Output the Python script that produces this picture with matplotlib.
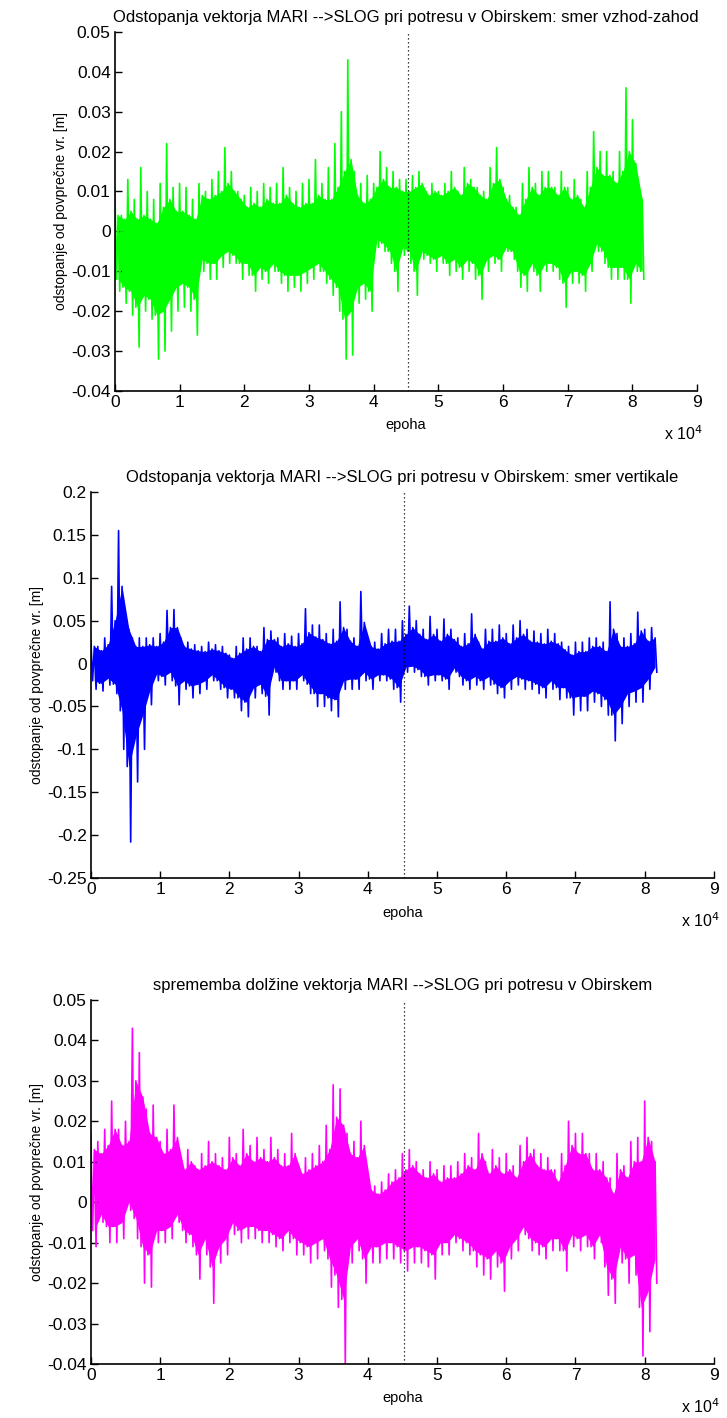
import numpy as np
import matplotlib
matplotlib.use("Agg")
import matplotlib.pyplot as plt

plt.rcParams['font.family'] = ['Liberation Sans', 'DejaVu Sans']

# ---------------- data ----------------
# Each signal is described per 1000-epoch bin (bins start at 0, 1000, ..., 81000):
# extreme spike values (hi / lo) and the edges of the dense core (core_hi / core_lo).
bin_start_e4 = [i / 10 for i in range(82)]

ew_hi = [0.011, 0.004, 0.013, 0.008, 0.016, 0.010, 0.008, 0.012, 0.022, 0.011,
         0.012, 0.011, 0.008, 0.012, 0.010, 0.013, 0.015, 0.021, 0.015, 0.010,
         0.009, 0.011, 0.010, 0.012, 0.011, 0.012, 0.016, 0.011, 0.010, 0.012,
         0.013, 0.018, 0.012, 0.016, 0.022, 0.030, 0.043, 0.015, 0.012, 0.014,
         0.012, 0.020, 0.016, 0.015, 0.013, 0.013, 0.014, 0.015, 0.010, 0.012,
         0.010, 0.012, 0.015, 0.010, 0.016, 0.013, 0.011, 0.010, 0.016, 0.021,
         0.011, 0.009, 0.006, 0.012, 0.016, 0.012, 0.015, 0.015, 0.011, 0.015,
         0.011, 0.013, 0.008, 0.015, 0.025, 0.020, 0.020, 0.015, 0.020, 0.036,
         0.028, 0.010]
ew_lo = [-0.015, -0.018, -0.021, -0.029, -0.020, -0.022, -0.032, -0.030, -0.025, -0.020,
         -0.019, -0.020, -0.026, -0.010, -0.012, -0.012, -0.009, -0.008, -0.008, -0.012,
         -0.011, -0.015, -0.012, -0.013, -0.010, -0.013, -0.015, -0.014, -0.015, -0.013,
         -0.012, -0.010, -0.013, -0.016, -0.020, -0.032, -0.031, -0.018, -0.017, -0.020,
         -0.004, -0.005, -0.008, -0.015, -0.006, -0.008, -0.016, -0.007, -0.008, -0.010,
         -0.008, -0.011, -0.010, -0.012, -0.010, -0.012, -0.017, -0.010, -0.008, -0.010,
         -0.005, -0.007, -0.014, -0.015, -0.010, -0.015, -0.010, -0.010, -0.012, -0.019,
         -0.013, -0.013, -0.015, -0.010, -0.005, -0.008, -0.012, -0.012, -0.012, -0.018,
         -0.010, -0.012]
ew_core_hi = [0.004, 0.003, 0.005, 0.003, 0.004, 0.003, 0.002, 0.006, 0.008, 0.005,
              0.005, 0.004, 0.003, 0.009, 0.008, 0.009, 0.010, 0.012, 0.010, 0.008,
              0.006, 0.007, 0.006, 0.008, 0.007, 0.007, 0.009, 0.007, 0.006, 0.007,
              0.007, 0.009, 0.008, 0.008, 0.011, 0.015, 0.018, 0.009, 0.007, 0.008,
              0.011, 0.013, 0.011, 0.011, 0.010, 0.010, 0.011, 0.012, 0.009, 0.010,
              0.009, 0.010, 0.011, 0.009, 0.012, 0.011, 0.009, 0.008, 0.012, 0.013,
              0.008, 0.006, 0.004, 0.008, 0.011, 0.009, 0.011, 0.011, 0.009, 0.011,
              0.008, 0.009, 0.006, 0.011, 0.016, 0.014, 0.014, 0.012, 0.015, 0.020,
              0.017, 0.008]
ew_core_lo = [-0.012, -0.014, -0.015, -0.019, -0.016, -0.017, -0.021, -0.020, -0.017, -0.014,
              -0.013, -0.014, -0.017, -0.007, -0.008, -0.008, -0.006, -0.005, -0.006, -0.008,
              -0.008, -0.011, -0.009, -0.010, -0.008, -0.010, -0.011, -0.011, -0.011, -0.010,
              -0.009, -0.008, -0.010, -0.012, -0.014, -0.022, -0.020, -0.014, -0.013, -0.015,
              -0.002, -0.003, -0.005, -0.010, -0.004, -0.005, -0.010, -0.005, -0.006, -0.007,
              -0.006, -0.008, -0.007, -0.009, -0.007, -0.008, -0.011, -0.007, -0.006, -0.007,
              -0.004, -0.005, -0.010, -0.011, -0.008, -0.011, -0.008, -0.008, -0.009, -0.013,
              -0.010, -0.010, -0.011, -0.008, -0.003, -0.005, -0.009, -0.009, -0.009, -0.012,
              -0.008, -0.010]

vert_hi = [0.027, 0.020, 0.030, 0.090, 0.155, 0.055, 0.030, 0.030, 0.030, 0.030,
           0.035, 0.062, 0.063, 0.030, 0.025, 0.022, 0.020, 0.025, 0.022, 0.020,
           0.010, 0.020, 0.030, 0.030, 0.020, 0.042, 0.038, 0.030, 0.035, 0.032,
           0.035, 0.064, 0.045, 0.045, 0.035, 0.040, 0.072, 0.040, 0.030, 0.084,
           0.030, 0.025, 0.035, 0.040, 0.040, 0.050, 0.067, 0.050, 0.040, 0.055,
           0.040, 0.052, 0.040, 0.030, 0.035, 0.058, 0.025, 0.040, 0.040, 0.045,
           0.035, 0.045, 0.050, 0.040, 0.038, 0.035, 0.040, 0.035, 0.025, 0.020,
           0.025, 0.025, 0.030, 0.030, 0.025, 0.072, 0.035, 0.030, 0.035, 0.060,
           0.040, 0.042]
vert_lo = [-0.030, -0.032, -0.025, -0.035, -0.100, -0.208, -0.138, -0.100, -0.048, -0.020,
           -0.025, -0.020, -0.048, -0.030, -0.040, -0.035, -0.030, -0.020, -0.030, -0.040,
           -0.040, -0.055, -0.062, -0.040, -0.035, -0.060, -0.010, -0.030, -0.030, -0.030,
           -0.020, -0.035, -0.050, -0.050, -0.055, -0.062, -0.030, -0.030, -0.030, -0.020,
           -0.030, -0.020, -0.020, -0.030, -0.045, -0.010, -0.010, -0.015, -0.025, -0.020,
           -0.020, -0.030, -0.010, -0.025, -0.030, -0.025, -0.030, -0.025, -0.035, -0.040,
           -0.030, -0.025, -0.030, -0.030, -0.035, -0.040, -0.030, -0.042, -0.040, -0.060,
           -0.055, -0.055, -0.045, -0.050, -0.060, -0.090, -0.070, -0.050, -0.045, -0.045,
           -0.030, -0.010]
vert_core_hi = [0.020, 0.015, 0.022, 0.050, 0.090, 0.040, 0.020, 0.020, 0.022, 0.020,
                0.025, 0.042, 0.042, 0.020, 0.017, 0.015, 0.014, 0.017, 0.015, 0.012,
                0.006, 0.012, 0.017, 0.020, 0.014, 0.028, 0.028, 0.020, 0.023, 0.020,
                0.023, 0.036, 0.031, 0.028, 0.023, 0.026, 0.042, 0.026, 0.020, 0.048,
                0.020, 0.017, 0.023, 0.026, 0.026, 0.034, 0.042, 0.034, 0.028, 0.034,
                0.026, 0.034, 0.028, 0.020, 0.023, 0.034, 0.017, 0.026, 0.026, 0.030,
                0.023, 0.030, 0.034, 0.026, 0.025, 0.023, 0.026, 0.023, 0.016, 0.010,
                0.014, 0.014, 0.020, 0.020, 0.014, 0.040, 0.020, 0.020, 0.023, 0.038,
                0.026, 0.030]
vert_core_lo = [-0.020, -0.023, -0.017, -0.024, -0.055, -0.120, -0.085, -0.060, -0.032, -0.012,
                -0.015, -0.010, -0.026, -0.020, -0.026, -0.024, -0.020, -0.013, -0.020, -0.028,
                -0.030, -0.040, -0.045, -0.028, -0.024, -0.038, -0.004, -0.020, -0.020, -0.020,
                -0.013, -0.024, -0.035, -0.035, -0.040, -0.042, -0.020, -0.018, -0.018, -0.010,
                -0.018, -0.013, -0.013, -0.018, -0.028, -0.004, -0.003, -0.007, -0.015, -0.013,
                -0.013, -0.018, -0.005, -0.015, -0.020, -0.015, -0.020, -0.015, -0.024, -0.028,
                -0.020, -0.015, -0.018, -0.020, -0.024, -0.028, -0.020, -0.028, -0.028, -0.040,
                -0.038, -0.038, -0.032, -0.035, -0.042, -0.060, -0.050, -0.035, -0.032, -0.028,
                -0.018, -0.004]

len_hi = [0.017, 0.015, 0.018, 0.025, 0.018, 0.020, 0.043, 0.037, 0.023, 0.024,
          0.015, 0.018, 0.024, 0.010, 0.013, 0.009, 0.012, 0.015, 0.012, 0.011,
          0.016, 0.012, 0.018, 0.014, 0.016, 0.013, 0.016, 0.013, 0.012, 0.017,
          0.009, 0.011, 0.012, 0.014, 0.019, 0.029, 0.028, 0.017, 0.015, 0.020,
          0.005, 0.004, 0.005, 0.007, 0.008, 0.012, 0.013, 0.010, 0.008, 0.010,
          0.008, 0.009, 0.009, 0.010, 0.012, 0.011, 0.017, 0.010, 0.013, 0.011,
          0.012, 0.009, 0.014, 0.016, 0.013, 0.012, 0.011, 0.008, 0.012, 0.020,
          0.017, 0.017, 0.012, 0.012, 0.010, 0.006, 0.012, 0.009, 0.015, 0.016,
          0.025, 0.015]
len_lo = [-0.011, -0.005, -0.010, -0.010, -0.009, -0.002, -0.009, -0.020, -0.021, -0.010,
          -0.010, -0.009, -0.005, -0.010, -0.011, -0.019, -0.013, -0.025, -0.015, -0.013,
          -0.008, -0.010, -0.009, -0.009, -0.010, -0.010, -0.011, -0.012, -0.010, -0.013,
          -0.013, -0.015, -0.014, -0.012, -0.021, -0.026, -0.040, -0.015, -0.012, -0.020,
          -0.015, -0.015, -0.014, -0.014, -0.015, -0.017, -0.015, -0.015, -0.016, -0.019,
          -0.013, -0.013, -0.010, -0.012, -0.013, -0.016, -0.018, -0.019, -0.016, -0.022,
          -0.014, -0.012, -0.008, -0.012, -0.013, -0.014, -0.012, -0.012, -0.017, -0.011,
          -0.012, -0.011, -0.014, -0.010, -0.023, -0.025, -0.015, -0.020, -0.018, -0.038,
          -0.032, -0.020]
len_core_hi = [0.013, 0.012, 0.014, 0.018, 0.014, 0.015, 0.030, 0.026, 0.017, 0.016,
               0.012, 0.013, 0.016, 0.008, 0.010, 0.008, 0.009, 0.010, 0.009, 0.008,
               0.011, 0.009, 0.012, 0.010, 0.011, 0.010, 0.011, 0.009, 0.009, 0.012,
               0.007, 0.008, 0.009, 0.010, 0.013, 0.021, 0.019, 0.012, 0.011, 0.014,
               0.003, 0.002, 0.003, 0.005, 0.006, 0.008, 0.009, 0.007, 0.006, 0.007,
               0.005, 0.006, 0.006, 0.007, 0.009, 0.008, 0.012, 0.007, 0.009, 0.007,
               0.008, 0.006, 0.010, 0.012, 0.009, 0.008, 0.008, 0.005, 0.009, 0.014,
               0.012, 0.012, 0.008, 0.008, 0.006, 0.002, 0.008, 0.006, 0.010, 0.010,
               0.016, 0.010]
len_core_lo = [-0.007, -0.003, -0.006, -0.006, -0.005, 0.000, -0.004, -0.011, -0.013, -0.007,
               -0.007, -0.006, -0.003, -0.007, -0.008, -0.013, -0.009, -0.016, -0.011, -0.009,
               -0.005, -0.007, -0.006, -0.006, -0.007, -0.007, -0.008, -0.009, -0.007, -0.009,
               -0.010, -0.011, -0.010, -0.009, -0.014, -0.018, -0.024, -0.011, -0.009, -0.014,
               -0.011, -0.011, -0.010, -0.010, -0.011, -0.012, -0.011, -0.011, -0.012, -0.013,
               -0.010, -0.010, -0.008, -0.009, -0.010, -0.012, -0.013, -0.014, -0.012, -0.015,
               -0.011, -0.009, -0.006, -0.009, -0.010, -0.011, -0.009, -0.009, -0.012, -0.008,
               -0.009, -0.008, -0.011, -0.008, -0.016, -0.019, -0.011, -0.014, -0.013, -0.026,
               -0.022, -0.014]

earthquake_epoch = 45300
x_tick_labels = ["0", "1", "2", "3", "4", "5", "6", "7", "8", "9"]

titles = ["Odstopanja vektorja MARI -->SLOG pri potresu v Obirskem: smer vzhod-zahod",
          "Odstopanja vektorja MARI -->SLOG pri potresu v Obirskem: smer vertikale",
          "sprememba dolžine vektorja MARI -->SLOG pri potresu v Obirskem"]
ylabel = "odstopanje od povprečne vr. [m]"
xlabel = "epoha"

small_ticks = [-0.04, -0.03, -0.02, -0.01, 0, 0.01, 0.02, 0.03, 0.04, 0.05]
small_labels = ["-0.04", "-0.03", "-0.02", "-0.01", "0", "0.01", "0.02", "0.03", "0.04", "0.05"]
vert_ticks = [-0.25, -0.2, -0.15, -0.1, -0.05, 0, 0.05, 0.1, 0.15, 0.2]
vert_labels = ["-0.25", "-0.2", "-0.15", "-0.1", "-0.05", "0", "0.05", "0.1", "0.15", "0.2"]

panels = [
    dict(hi=ew_hi, lo=ew_lo, chi=ew_core_hi, clo=ew_core_lo, color="#00ff00",
         ylim=(-0.04, 0.05), yticks=small_ticks, ylabels=small_labels,
         rect=[0.158, 0.7243, 0.801, 0.2532]),
    dict(hi=vert_hi, lo=vert_lo, chi=vert_core_hi, clo=vert_core_lo, color="#0000ff",
         ylim=(-0.25, 0.2), yticks=vert_ticks, ylabels=vert_labels,
         rect=[0.125, 0.3808, 0.857, 0.2722]),
    dict(hi=len_hi, lo=len_lo, chi=len_core_hi, clo=len_core_lo, color="#ff00ff",
         ylim=(-0.04, 0.05), yticks=small_ticks, ylabels=small_labels,
         rect=[0.125, 0.0381, 0.857, 0.2567]),
]

fig = plt.figure(figsize=(7.27, 14.18), dpi=100)

for p, title in zip(panels, titles):
    ax = fig.add_axes(p["rect"])
    xs, ys, cx = [], [], []
    for b, h, cl, ch, l in zip(bin_start_e4, p["hi"], p["clo"], p["chi"], p["lo"]):
        x0 = b * 1e4
        xs += [x0, x0 + 250, x0 + 500, x0 + 750]
        ys += [h, cl, ch, l]
        cx.append(x0 + 500)
    ax.fill_between(cx, p["clo"], p["chi"], color=p["color"], linewidth=0)
    ax.plot(xs, ys, color=p["color"], linewidth=1.2)
    ax.axvline(earthquake_epoch, color="black", linestyle=(0, (1, 2.2)), linewidth=0.9)

    ax.set_xlim(0, 90000)
    ax.set_ylim(*p["ylim"])
    ax.set_xticks([i * 10000 for i in range(10)])
    ax.set_xticklabels(x_tick_labels)
    ax.set_yticks(p["yticks"])
    ax.set_yticklabels(p["ylabels"])
    for s in ["top", "right"]:
        ax.spines[s].set_visible(False)
    ax.spines["left"].set_linewidth(1.2)
    ax.spines["bottom"].set_linewidth(1.2)
    ax.tick_params(direction="in", length=5, width=1.0, labelsize=12.5, pad=3)
    ax.set_title(title, fontsize=12, pad=7)
    ax.set_ylabel(ylabel, fontsize=10, labelpad=2)
    ax.set_xlabel(xlabel, fontsize=10.5, labelpad=6)
    ax.annotate("x 10$^4$", xy=(1.0, 0.0), xycoords="axes fraction",
                xytext=(4, -31), textcoords="offset points",
                ha="right", va="center", fontsize=11.5)

fig.savefig("out.png", dpi=100)
